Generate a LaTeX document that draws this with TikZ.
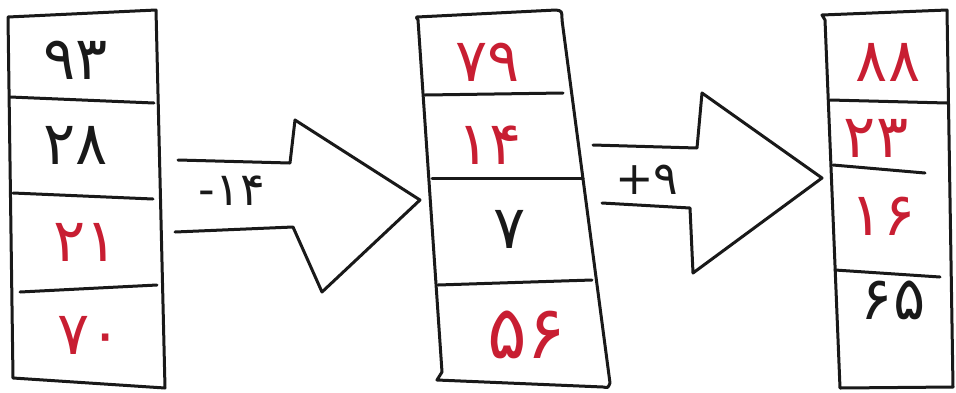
\documentclass[tikz,border=0pt]{standalone}
\usepackage{fontspec}
\newfontfamily\fa{DejaVu Sans}
\definecolor{ink}{RGB}{25,25,25}
\definecolor{redink}{RGB}{200,30,50}
\tikzset{
  outline/.style={draw=ink, line width=3pt, line join=round, line cap=round},
  num/.style={font=\fa\fontsize{60}{60}\selectfont, inner sep=0pt},
  rednum/.style={num, text=redink},
  blknum/.style={num, text=ink},
  lbl/.style={font=\fa\fontsize{46}{46}\selectfont, text=ink, inner sep=0pt}
}
\begin{document}
\begin{tikzpicture}[x=1pt,y=-1pt]
\useasboundingbox (0,0) rectangle (956,392);
% column 1
\draw[outline] (8,17) -- (156,10) -- (165,388) -- (13,378) -- cycle;
\draw[outline] (10,97) -- (154,103);
\draw[outline] (13,193) -- (153,199);
\draw[outline] (20,292) -- (157,285);
\node[blknum] (a1) at (76,60) {۹۳};
\node[blknum] (a2) at (76,145) {۲۸};
\node[rednum] (a3) at (86,242) {۲۱};
\node[rednum] (a4) at (90,335) {۷۰};
% arrow 1
\draw[outline] (178,160) -- (290,163) -- (295,120) -- (420,200) -- (322,292) -- (293,227) -- (175,232);
\node[lbl] (l1) at (232,191) {-۱۴};
% column 2
\draw[outline] (417,17) -- (556,10) .. controls (562,11) .. (562,20) -- (610,383) .. controls (608,388) .. (603,387) -- (437,380) -- (442,372) -- (418,20) .. controls (416,17) .. (417,17);
\draw[outline] (425,95) -- (563,93);
\draw[outline] (432,178) -- (583,178);
\draw[outline] (438,285) -- (592,280);
\node[rednum] (b1) at (488,62) {۷۹};
\node[rednum] (b2) at (490,145) {۱۴};
\node[blknum] (b3) at (510,229) {۷};
\node[rednum, font=\fa\fontsize{74}{74}\selectfont] (b4) at (527,335) {۵۶};
% arrow 2
\draw[outline] (593,145) -- (697,148) -- (702,93) -- (822,178) -- (693,273) -- (690,208) -- (602,203);
\node[lbl] (l2) at (647,180) {+۹};
% column 3
\draw[outline] (822,15) -- (947,10) -- (953,387) -- (840,388) -- (825,20) -- cycle;
\draw[outline] (830,100) -- (947,103);
\draw[outline] (833,165) -- (925,173);
\draw[outline] (835,270) -- (940,277);
\node[rednum] (c1) at (888,62) {۸۸};
\node[rednum] (c2) at (876,138) {۲۳};
\node[rednum] (c3) at (883,216) {۱۶};
\node[blknum] (c4) at (893,300) {۶۵};
\end{tikzpicture}
\end{document}
